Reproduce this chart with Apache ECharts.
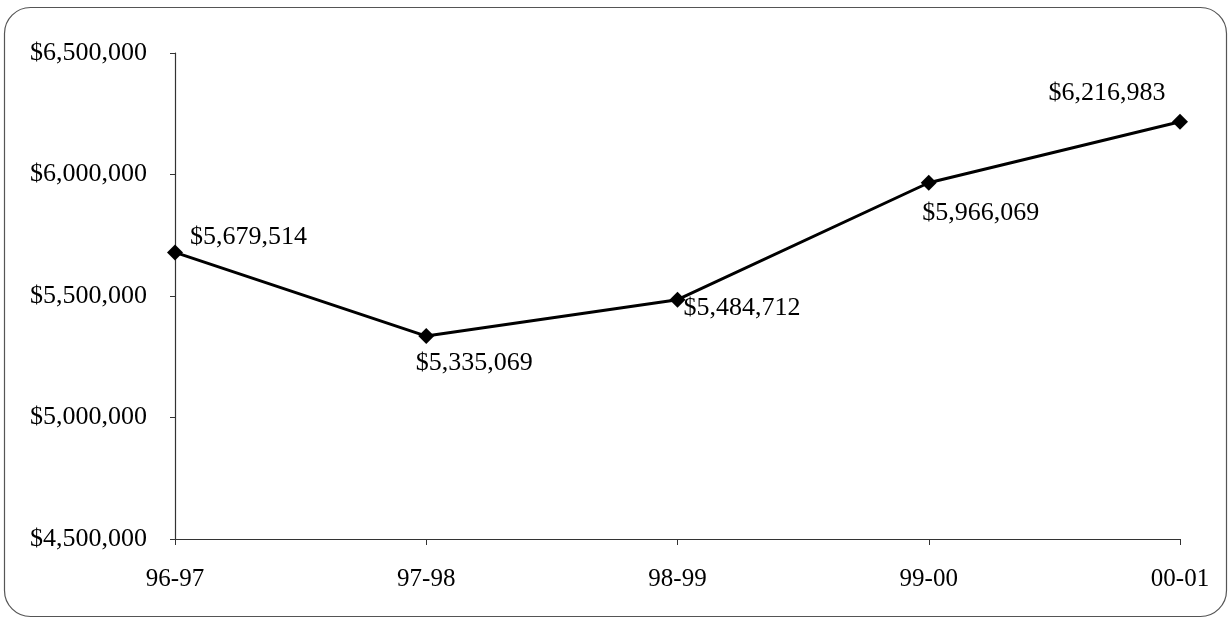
<!DOCTYPE html>
<html><head><meta charset="utf-8">
<script src="https://cdn.jsdelivr.net/npm/echarts@6/dist/echarts.min.js"></script>
<style>html,body{margin:0;padding:0;background:#fff}#c{width:1231px;height:620px}</style>
</head><body><div id="c"></div>
<script>
const categories = ['96-97','97-98','98-99','99-00','00-01'];
const values = [5679514, 5335069, 5484712, 5966069, 6216983];
const labelPlacement = [
  {position:'right', offset:[2,-15]},
  {position:'bottom', offset:[48,1]},
  {position:'right', offset:[-7,8]},
  {position:'bottom', offset:[52,4]},
  {position:'top', offset:[-73,-3]}
];
const fmt = v => '$' + v.toLocaleString('en-US');
const font = '"Liberation Serif", "Times New Roman", serif';
const chart = echarts.init(document.getElementById('c'), null, {renderer:'canvas'});
chart.setOption({
  backgroundColor:'#fff',
  animation:false,
  graphic:[{type:'rect', shape:{x:4.5,y:7.5,width:1222,height:609,r:26}, style:{fill:'none',stroke:'#555',lineWidth:1.2}, silent:true}],
  grid:{left:175,right:51,top:53,bottom:81},
  xAxis:{type:'category', data:categories, boundaryGap:false,
    axisLine:{lineStyle:{color:'#333',width:1.2}},
    axisTick:{alignWithLabel:true, length:6, lineStyle:{color:'#333'}},
    axisLabel:{color:'#000', fontFamily:font, fontSize:25, margin:28},
    splitLine:{show:false}},
  yAxis:{type:'value', min:4500000, max:6500000, interval:500000,
    axisLine:{show:true, lineStyle:{color:'#333',width:1.2}},
    axisTick:{show:true, length:5, lineStyle:{color:'#333'}},
    axisLabel:{color:'#000', fontFamily:font, fontSize:26, margin:28, formatter:fmt},
    splitLine:{show:false}},
  series:[{type:'line', data: values.map((v,i)=>({value:v, label:labelPlacement[i]})),
    symbol:'diamond', symbolSize:16,
    lineStyle:{color:'#000', width:3},
    itemStyle:{color:'#000'},
    label:{show:true, color:'#000', fontFamily:font, fontSize:26, distance:5, formatter:p=>fmt(p.value)}
  }]
});
</script></body></html>
